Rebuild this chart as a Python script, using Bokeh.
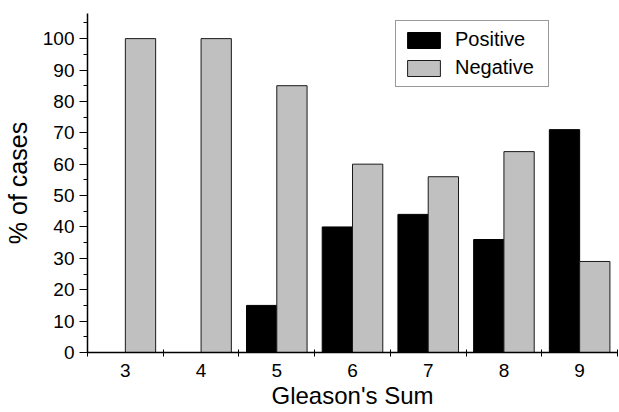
from bokeh.plotting import figure
from bokeh.models import (Range1d, FixedTicker, SingleIntervalTicker, ColumnDataSource,
                          Legend, LegendItem)
from bokeh.embed import file_html
from bokeh.resources import INLINE

categories = [3, 4, 5, 6, 7, 8, 9]
positive = [0, 0, 15, 40, 44, 36, 71]
negative = [100, 100, 85, 60, 56, 64, 29]
series_names = ["Positive", "Negative"]
y_label = "% of cases"
x_label = "Gleason's Sum"

FONT = "Liberation Sans"

p = figure(width=619, height=412, output_backend="svg", toolbar_location=None,
           x_range=Range1d(categories[0] - 0.5, categories[-1] + 0.5),
           y_range=Range1d(0, 108),
           min_border_left=86, min_border_right=2, min_border_top=13, min_border_bottom=60)
p.outline_line_color = None
p.grid.grid_line_color = None
p.background_fill_color = "white"

pos_x = [c - 0.2 for c in categories]
neg_x = [c + 0.2 for c in categories]
src_pos = ColumnDataSource(dict(x=pos_x, top=positive))
src_neg = ColumnDataSource(dict(x=neg_x, top=negative))

r_pos = p.vbar(x="x", top="top", bottom=0, width=0.4, source=src_pos,
               fill_color="#000000", line_color="#000000", line_width=1)
r_neg = p.vbar(x="x", top="top", bottom=0, width=0.4, source=src_neg,
               fill_color="#C0C0C0", line_color="#1a1a1a", line_width=1)

# x axis
xa = p.xaxis[0]
xa.ticker = FixedTicker(ticks=categories,
                        minor_ticks=[c - 0.5 for c in categories] + [categories[-1] + 0.5])
xa.major_tick_in = 0
xa.major_tick_out = 0
xa.minor_tick_in = 3
xa.minor_tick_out = 4
xa.minor_tick_line_color = "black"
xa.axis_line_color = "black"
xa.axis_line_width = 1.5
xa.major_label_text_font = FONT
xa.major_label_text_font_size = "19px"
xa.major_label_text_color = "black"
xa.major_label_standoff = 7
xa.axis_label = x_label
xa.axis_label_text_font = FONT
xa.axis_label_text_font_size = "24px"
xa.axis_label_text_font_style = "normal"
xa.axis_label_text_color = "black"
xa.axis_label_standoff = 2

# y axis
ya = p.yaxis[0]
ya.ticker = SingleIntervalTicker(interval=10, num_minor_ticks=2)
ya.major_tick_in = 0
ya.major_tick_out = 8
ya.minor_tick_in = 0
ya.minor_tick_out = 4
ya.axis_line_color = "black"
ya.axis_line_width = 1.5
ya.major_tick_line_width = 1
ya.major_label_text_font = FONT
ya.major_label_text_font_size = "19px"
ya.major_label_text_color = "black"
ya.major_label_standoff = 5
ya.axis_label = y_label
ya.axis_label_text_font = FONT
ya.axis_label_text_font_size = "25px"
ya.axis_label_text_font_style = "normal"
ya.axis_label_text_color = "black"
ya.axis_label_standoff = 8

legend = Legend(items=[LegendItem(label=series_names[0], renderers=[r_pos]),
                       LegendItem(label=series_names[1], renderers=[r_neg])],
                location=(308, 265))
legend.border_line_color = "#333333"
legend.border_line_width = 1
legend.background_fill_color = "white"
legend.background_fill_alpha = 1
legend.label_text_font = FONT
legend.label_text_font_size = "20px"
legend.label_text_color = "black"
legend.glyph_width = 41
legend.glyph_height = 20
legend.label_height = 20
legend.label_width = 86
legend.spacing = 5
legend.padding = 7
legend.margin = 0
legend.label_standoff = 11
p.add_layout(legend, "center")

open("out.html", "w").write(file_html(p, INLINE))
